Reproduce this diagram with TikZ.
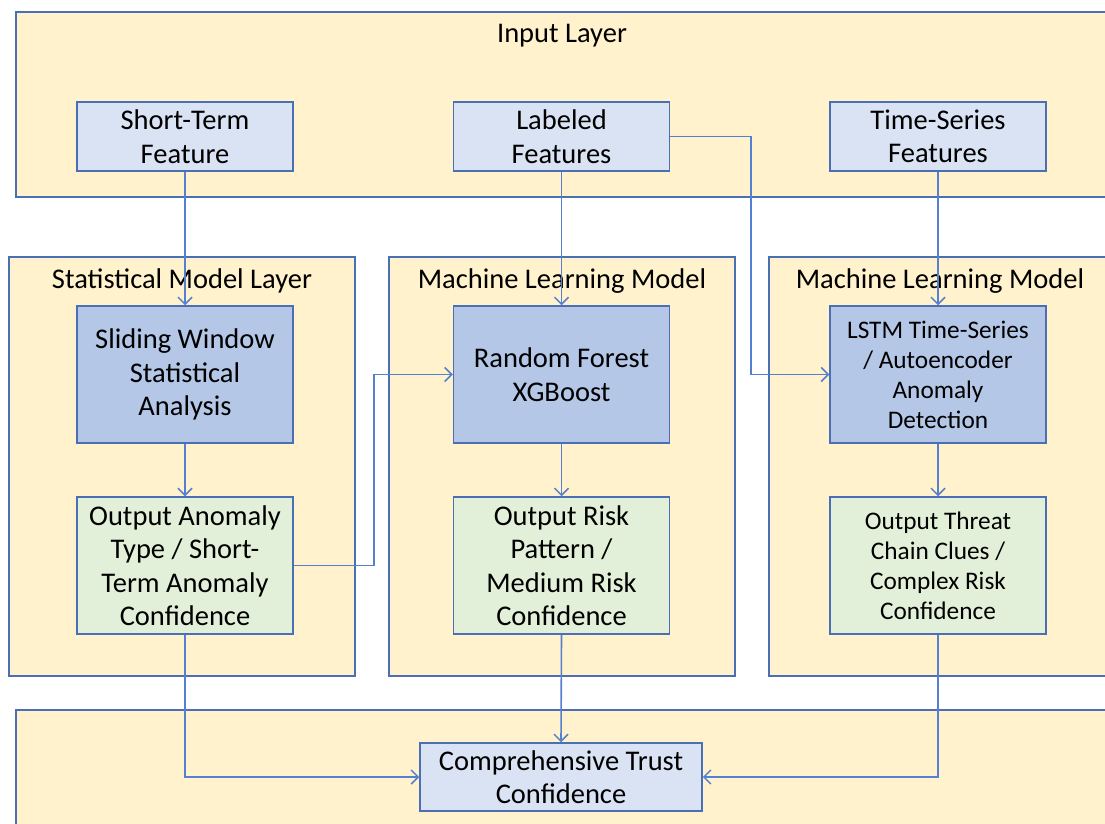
\documentclass[tikz,border=0pt]{standalone}
\usepackage{fontspec}
\setmainfont{Carlito}
\usetikzlibrary{arrows.meta}
\definecolor{layerfill}{HTML}{FFF2CC}
\definecolor{edgeblue}{HTML}{4A6FB5}
\definecolor{linkblue}{HTML}{5580D0}
\definecolor{infill}{HTML}{DAE3F3}
\definecolor{modfill}{HTML}{B4C7E7}
\definecolor{outfill}{HTML}{E2F0D9}
\tikzset{
  layerbox/.style={draw=edgeblue, line width=1.5pt, fill=layerfill, inner sep=0pt},
  basebox/.style={draw=edgeblue, line width=1.5pt, align=center, inner sep=2pt,
    minimum width=216pt, font=\fontsize{28.5}{33.5}\selectfont},
  inbox/.style={basebox, fill=infill, minimum height=69pt},
  modbox/.style={basebox, fill=modfill, minimum height=137pt},
  outbox/.style={basebox, fill=outfill, minimum height=137pt},
  smalltext/.style={font=\fontsize{25.3}{30}\selectfont},
  title/.style={font=\fontsize{28.5}{33.5}\selectfont, inner sep=0pt},
  link/.style={draw=linkblue, line width=1.6pt, -{Straight Barb[length=7pt,width=14pt,line width=1.5pt]}}
}
\begin{document}
\begin{tikzpicture}[x=1pt,y=-1pt]
\useasboundingbox (0,0) rectangle (1105,824);
\clip (0,0) rectangle (1105,824);
% layers
\node[layerbox, minimum width=1104pt, minimum height=185pt] (inlayer) at (568,104.5) {};
\node[layerbox, minimum width=346pt, minimum height=419pt] (statlayer) at (182,466.5) {};
\node[layerbox, minimum width=346pt, minimum height=419pt] (mllayer) at (562,466.5) {};
\node[layerbox, minimum width=346pt, minimum height=419pt] (mllayerb) at (942,466.5) {};
\node[layerbox, minimum width=1104pt, minimum height=130pt] (outlayer) at (568,775) {};
% titles
\node[title] (tin) at (562,36) {Input Layer};
\node[title] (tstat) at (182,281) {Statistical Model Layer};
\node[title] (tml) at (562,281) {Machine Learning Model};
\node[title] (tmlb) at (940,281) {Machine Learning Model};
% input boxes
\node[inbox] (stf) at (185,136.5) {Short-Term\\Feature};
\node[inbox] (lab) at (561.5,136.5) {Labeled\\Features};
\node[inbox] (tsf) at (938,136.5) {Time-Series\\Features};
% model boxes
\node[modbox] (sw) at (185,374.5) {Sliding Window\\Statistical\\Analysis};
\node[modbox] (rf) at (561.5,374.5) {Random Forest\\XGBoost};
\node[modbox, smalltext] (lstm) at (938,374.5) {LSTM Time-Series\\/ Autoencoder\\Anomaly\\Detection};
% output boxes
\node[outbox] (oa) at (185,565.5) {Output Anomaly\\Type / Short-\\Term Anomaly\\Confidence};
\node[outbox] (orisk) at (561.5,565.5) {Output Risk\\Pattern /\\Medium Risk\\Confidence};
\node[outbox, smalltext] (ot) at (938,565.5) {Output Threat\\Chain Clues /\\Complex Risk\\Confidence};
% final box
\node[basebox, fill=infill, minimum width=282pt, minimum height=68pt] (ct) at (561,777) {Comprehensive Trust\\Confidence};
% connectors
\draw[link] (stf.south) -- (sw.north);
\draw[link] (lab.south) -- (rf.north);
\draw[link] (tsf.south) -- (lstm.north);
\draw[link] (lab.east) -- ++(81,0) |- (lstm.west);
\draw[link] (sw.south) -- (oa.north);
\draw[link] (rf.south) -- (orisk.north);
\draw[link] (lstm.south) -- (ot.north);
\draw[link] (oa.east) -- ++(80,0) |- (rf.west);
\draw[link] (oa.south) |- (ct.west);
\draw[link] (orisk.south) -- (ct.north);
\draw[link] (ot.south) |- (ct.east);
\end{tikzpicture}
\end{document}
